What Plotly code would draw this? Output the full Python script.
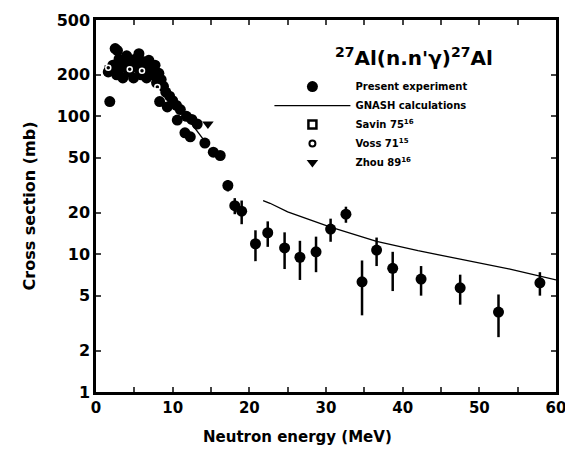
import plotly.graph_objects as go

# Present experiment (low-energy cluster, no error bars)
pres_x = [1.6, 1.8, 2.0, 2.2, 2.5, 2.8, 2.7, 3.0, 3.3, 3.5, 3.8, 4.0, 4.3, 4.6, 4.9, 5.1,
          5.4, 5.6, 5.9, 6.1, 6.4, 6.6, 6.9, 7.1, 7.4, 7.7, 7.9, 8.2, 8.5, 8.3, 8.8,
          9.3, 9.1, 9.6, 10.0, 10.6, 10.5, 11.0, 11.6, 11.8, 12.3, 12.5, 13.2, 14.2,
          15.3, 16.2]
pres_y = [210, 128, 215, 235, 310, 300, 200, 260, 225, 190, 245, 275, 210, 240, 190, 260,
          225, 285, 200, 250, 230, 190, 255, 215, 200, 235, 175, 205, 185, 128, 165,
          117, 150, 140, 130, 94, 120, 112, 76, 100, 71, 95, 88, 64,
          55, 52]

# Present experiment with error bars (higher energies)
err_x = [17.2, 18.1, 19.0, 20.8, 22.4, 24.6, 26.6, 28.7, 30.6, 32.6, 34.7, 36.6,
         38.7, 42.4, 47.5, 52.5, 57.9]
err_y = [31.5, 22.5, 20.5, 11.9, 14.3, 11.1, 9.5, 10.4, 15.2, 19.5, 6.3, 10.7,
         7.9, 6.6, 5.7, 3.8, 6.2]
err_dy = [3.0, 3.0, 4.0, 3.0, 3.0, 3.3, 3.0, 3.0, 2.9, 2.6, 2.7, 2.5,
          2.5, 1.6, 1.4, 1.3, 1.2]

# GNASH calculations (two drawn pieces)
gnash_x = [9.5, 11.0, 12.5, 14.0, None, 21.8, 22.7, 25.0, 30.5, 36.6, 42.0, 47.5, 54.0, 60.0]
gnash_y = [135, 112, 88, 68, None, 24.5, 23.4, 20.3, 15.8, 12.4, 10.6, 9.2, 7.8, 6.5]

# Other measurements hidden in the cluster
savin_x = [1.8, 2.3, 3.1]
savin_y = [215, 222, 230]
voss_x = [1.6, 4.4, 6.0, 8.0]
voss_y = [225, 220, 214, 163]
zhou_x = [14.6]
zhou_y = [88]

yticks = [1, 2, 5, 10, 20, 50, 100, 200, 500]

FONT = "DejaVu Sans"

fig = go.Figure()

fig.add_trace(go.Scatter(x=pres_x, y=pres_y, mode="markers", name="Present experiment",
                         marker=dict(symbol="circle", size=11, color="black")))
fig.add_trace(go.Scatter(x=err_x, y=err_y, mode="markers", showlegend=False,
                         marker=dict(symbol="circle", size=11, color="black"),
                         error_y=dict(type="data", array=err_dy, color="black",
                                      thickness=2.5, width=0)))
fig.add_trace(go.Scatter(x=gnash_x, y=gnash_y, mode="lines", name="GNASH calculations",
                         line=dict(color="black", width=1.3), connectgaps=False))
fig.add_trace(go.Scatter(x=savin_x, y=savin_y, mode="markers", name="Savin 75<sup>16</sup>",
                         marker=dict(symbol="square-open", size=8, color="black",
                                     line=dict(width=2.5))))
# Voss points show as white dots inside the black cluster; legend entry drawn black
fig.add_trace(go.Scatter(x=voss_x, y=voss_y, mode="markers", showlegend=False,
                         marker=dict(symbol="circle-open", size=5, color="white",
                                     line=dict(width=1.5, color="white"))))
fig.add_trace(go.Scatter(x=[None], y=[None], mode="markers", name="Voss 71<sup>15</sup>",
                         marker=dict(symbol="circle-open", size=6, color="black",
                                     line=dict(width=2, color="black"))))
fig.add_trace(go.Scatter(x=zhou_x, y=zhou_y, mode="markers", name="Zhou 89<sup>16</sup>",
                         marker=dict(symbol="triangle-down", size=10, color="black")))

fig.add_annotation(x=0.515, y=0.90, xref="paper", yref="paper", xanchor="left",
                   yanchor="middle",
                   text="<sup>27</sup>Al(n.n'γ)<sup>27</sup>Al", showarrow=False,
                   font=dict(family=FONT, size=20, color="black", weight="bold"))

# x axis title placed as a note (it sits left of centre in the original)
fig.add_annotation(x=0.439, y=0, xref="paper", yref="paper", yshift=-45,
                   text="Neutron energy (MeV)", showarrow=False, yanchor="middle",
                   font=dict(family=FONT, size=15, color="black", weight="bold"))

fig.update_xaxes(range=[0, 60], dtick=10, ticks="inside", ticklen=5, tickwidth=2,
                 minor=dict(dtick=5, ticks="inside", ticklen=5, tickwidth=2),
                 showline=True, linewidth=2.5, linecolor="black", mirror="ticks",
                 showgrid=False, zeroline=False, automargin=False,
                 tickfont=dict(family=FONT, size=15, color="black", weight="bold"))
fig.update_yaxes(type="log", range=[0, 2.699], tickvals=yticks,
                 ticktext=[str(v) for v in yticks],
                 ticks="inside", ticklen=5, tickwidth=2,
                 showline=True, linewidth=2.5, linecolor="black", mirror="ticks",
                 showgrid=False, zeroline=False, automargin=False,
                 title=dict(text="Cross section (mb)", standoff=18,
                            font=dict(family=FONT, size=16, color="black", weight="bold")),
                 tickfont=dict(family=FONT, size=16, color="black", weight="bold"))

fig.update_layout(
    width=565, height=441,
    margin=dict(l=88, r=17, t=12, b=57),
    plot_bgcolor="white", paper_bgcolor="white",
    legend=dict(x=0.377, y=0.860, xanchor="left", yanchor="top",
                bgcolor="rgba(0,0,0,0)", itemwidth=76, tracegroupgap=0,
                font=dict(family=FONT, size=10, color="black", weight="bold")),
)

fig.write_html("out.html")
